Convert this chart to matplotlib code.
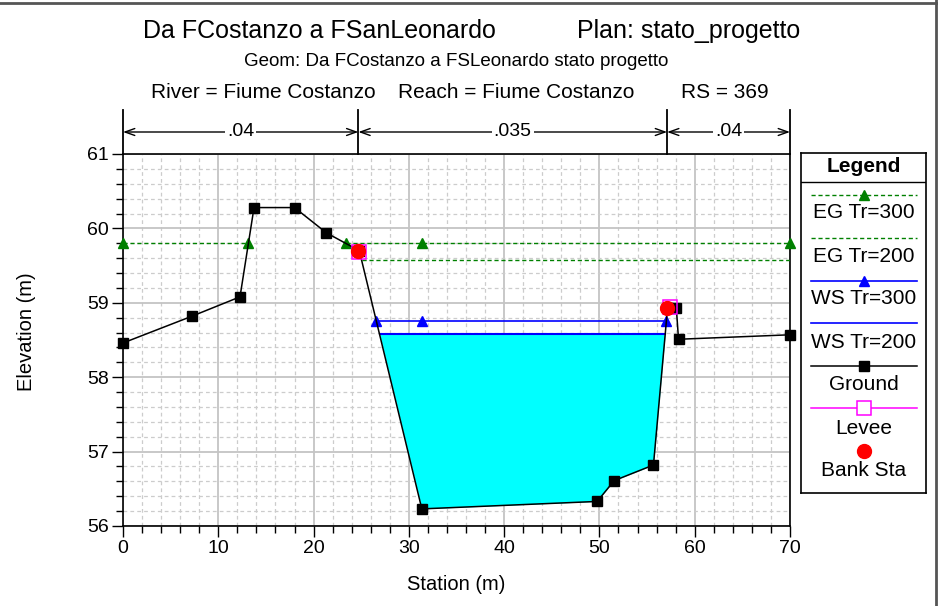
import numpy as np
import matplotlib
matplotlib.use('Agg')
import matplotlib.pyplot as plt
from matplotlib.lines import Line2D
from matplotlib.ticker import MultipleLocator
import matplotlib.transforms as mtransforms

plt.rcParams['font.family'] = ['Liberation Sans', 'DejaVu Sans']

# ---------------- data ----------------
ground_sta = [0.0, 7.24, 12.28, 13.75, 18.0, 21.35, 24.8, 31.36, 49.76, 51.55, 55.67, 57.15, 58.07, 58.3, 70.0]
ground_elev = [58.46, 58.82, 59.08, 60.28, 60.28, 59.94, 59.70, 56.23, 56.33, 56.61, 56.82, 58.93, 58.93, 58.51, 58.57]

eg300_elev = 59.80
eg300_seg1 = [0.0, 13.16]
eg300_seg2 = [23.36, 31.4, 70.0]
eg200_elev = 59.57
eg200_sta = [25.05, 70.0]
ws300_elev = 58.75
ws300_sta = [26.6, 31.4, 57.02]
ws200_elev = 58.58
ws200_sta = [26.92, 56.9]

levee_sta = [24.8, 57.4]
levee_elev = [59.68, 58.95]
bank_sta = [24.7, 57.13]
bank_elev = [59.70, 58.93]

n_breaks = [0.0, 24.7, 57.1, 70.0]
n_values = ['.04', '.035', '.04']

title_main = 'Da FCostanzo a FSanLeonardo'
title_plan = 'Plan: stato_progetto'
geom_line = 'Geom: Da FCostanzo a FSLeonardo stato progetto'
river_txt = 'River = Fiume Costanzo'
reach_txt = 'Reach = Fiume Costanzo'
rs_txt = 'RS = 369'

legend_labels = ['EG Tr=300', 'EG Tr=200', 'WS Tr=300', 'WS Tr=200', 'Ground', 'Levee', 'Bank Sta']

# ---------------- figure ----------------
W, H = 938, 606
fig = plt.figure(figsize=(W / 100, H / 100), dpi=100)

def fx(px):
    return px / W

def fy(py):
    return 1 - py / H

ax_l, ax_r, ax_t, ax_b = 123, 790, 154, 526
ax = fig.add_axes([fx(ax_l), fy(ax_b), fx(ax_r - ax_l), (ax_b - ax_t) / H])
ax.set_xlim(0, 70)
ax.set_ylim(56, 61)

ax.xaxis.set_major_locator(MultipleLocator(10))
ax.xaxis.set_minor_locator(MultipleLocator(2))
ax.yaxis.set_major_locator(MultipleLocator(1))
ax.yaxis.set_minor_locator(MultipleLocator(0.2))
ax.set_axisbelow(True)
ax.grid(which='major', color='#c4c4c4', linewidth=1.3, linestyle='-')
ax.grid(which='minor', color='#cccccc', linewidth=0.9, linestyle=(0, (3, 2.5)))
ax.tick_params(which='major', direction='out', length=8, width=1, labelsize=14, pad=2)
ax.tick_params(which='minor', direction='out', length=5, width=1)
for s in ax.spines.values():
    s.set_linewidth(1.2)

# water fill
xs = [ws200_sta[0]] + [s for s in ground_sta if ws200_sta[0] < s < ws200_sta[1]] + [ws200_sta[1]]
ys = np.interp(xs, ground_sta, ground_elev)
ax.fill_between(xs, ys, ws200_elev, color='#00ffff', zorder=2, linewidth=0)

# lines
ms_tri = 6.5
ax.plot(eg300_seg1, [eg300_elev] * len(eg300_seg1), color='#008000', linestyle=(0, (3, 2)), linewidth=1,
        marker='^', markersize=ms_tri, zorder=4, clip_on=False)
ax.plot(eg300_seg2, [eg300_elev] * len(eg300_seg2), color='#008000', linestyle=(0, (3, 2)), linewidth=1,
        marker='^', markersize=ms_tri, zorder=4, clip_on=False)
ax.plot(eg200_sta, [eg200_elev] * 2, color='#008000', linestyle=(0, (3, 2)), linewidth=1, zorder=4)
ax.plot(ws300_sta, [ws300_elev] * len(ws300_sta), color='#0000ff', linewidth=1.2,
        marker='^', markersize=ms_tri, zorder=4)
ax.plot(ws200_sta, [ws200_elev] * 2, color='#0000ff', linewidth=1.5, zorder=4)
ax.plot(ground_sta, ground_elev, color='black', linewidth=1.1, marker='s', markersize=6.5, zorder=5, clip_on=False)
ax.plot(levee_sta, levee_elev, linestyle='none', marker='s', markersize=10, markerfacecolor='none',
        markeredgecolor='#ff00ff', markeredgewidth=1.1, zorder=6)
ax.plot(bank_sta, bank_elev, linestyle='none', marker='o', markersize=10, color='#ff0000', zorder=7)

fig.text(fx(456), fy(585), 'Station (m)', fontsize=14.5, ha='center', va='center')
fig.text(fx(27), fy(332), 'Elevation (m)', fontsize=14.5, ha='center', va='center', rotation=90)

# Manning n annotations
trans = mtransforms.blended_transform_factory(ax.transData, ax.transAxes)
y_top = (ax_b - 110) / (ax_b - ax_t)
y_arr = (ax_b - 132) / (ax_b - ax_t)
for b in n_breaks:
    ax.add_line(Line2D([b, b], [1.0, y_top], transform=trans, color='black', linewidth=1.3, clip_on=False))
for i, v in enumerate(n_values):
    a, b = n_breaks[i], n_breaks[i + 1]
    ax.annotate('', xy=(a, y_arr), xytext=(b, y_arr), xycoords=trans, textcoords=trans,
                arrowprops=dict(arrowstyle='<->,head_length=0.7,head_width=0.25', color='black', lw=1,
                                shrinkA=0, shrinkB=0), annotation_clip=False)
    ax.text((a + b) / 2, y_arr, v, transform=trans, ha='center', va='center', fontsize=14,
            bbox=dict(facecolor='white', edgecolor='none', pad=1.5), zorder=10, clip_on=False)

# titles
fig.text(fx(143), fy(31), title_main, fontsize=18, ha='left', va='center')
fig.text(fx(800), fy(31), title_plan, fontsize=18, ha='right', va='center')
fig.text(fx(456), fy(61), geom_line, fontsize=13.5, ha='center', va='center')
fig.text(fx(151), fy(92), river_txt, fontsize=15, ha='left', va='center')
fig.text(fx(398), fy(92), reach_txt, fontsize=15, ha='left', va='center')
fig.text(fx(769), fy(92), rs_txt, fontsize=15, ha='right', va='center')

# border
fig.add_artist(Line2D([0, 1], [fy(3), fy(3)], transform=fig.transFigure, color='#555555', linewidth=2))
fig.add_artist(Line2D([fx(936), fx(936)], [0, 1], transform=fig.transFigure, color='#555555', linewidth=2))

# legend box
lg_l, lg_r, lg_t, lg_b = 801, 926, 153, 493
lax = fig.add_axes([fx(lg_l), fy(lg_b), fx(lg_r - lg_l), (lg_b - lg_t) / H])
lax.set_xlim(0, lg_r - lg_l)
lax.set_ylim(lg_b - lg_t, 0)
lax.set_xticks([])
lax.set_yticks([])
for s in lax.spines.values():
    s.set_linewidth(1.2)
lax.text(62.5, 14, 'Legend', fontsize=15, fontweight='bold', ha='center', va='center')
lax.plot([0, 125], [29, 29], color='black', linewidth=1)
x0, x1, xm = 10, 116, 63
line_y = [42, 85, 128, 170, 213, 255]
text_y = [60, 103, 146, 189, 231, 275, 317]
styles = [
    dict(color='#008000', linestyle=(0, (3, 2)), linewidth=1),
    dict(color='#008000', linestyle=(0, (3, 2)), linewidth=1),
    dict(color='#0000ff', linewidth=1.2),
    dict(color='#0000ff', linewidth=1.2),
    dict(color='black', linewidth=1.1),
    dict(color='#ff00ff', linewidth=1.1),
]
markers = [
    dict(marker='^', markersize=ms_tri, color='#008000'),
    None,
    dict(marker='^', markersize=ms_tri, color='#0000ff'),
    None,
    dict(marker='s', markersize=6.5, color='black'),
    dict(marker='s', markersize=10, markerfacecolor='white', markeredgecolor='#ff00ff', markeredgewidth=1.1),
]
for i in range(6):
    lax.plot([x0, x1], [line_y[i]] * 2, **styles[i])
    if markers[i] is not None:
        lax.plot([xm], [line_y[i]], linestyle='none', **markers[i])
lax.plot([xm], [298], linestyle='none', marker='o', markersize=10, color='#ff0000')
for lab, ty in zip(legend_labels, text_y):
    lax.text(62.5, ty, lab, fontsize=15, ha='center', va='center')

fig.savefig('out.png', dpi=100)
